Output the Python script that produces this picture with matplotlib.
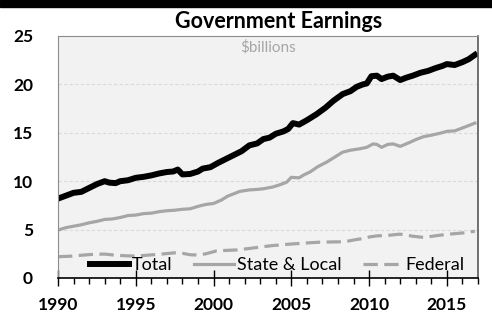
"""
Government earnings, $billions, 1990-2017.
"""
import matplotlib
matplotlib.use("Agg")
import matplotlib.pyplot as plt
from matplotlib.patches import Rectangle
from matplotlib.ticker import MultipleLocator

plt.rcParams['font.family'] = ['Lato', 'DejaVu Sans']

# values
total_years = [1990.0, 1990.5, 1991.0, 1991.5, 1992.0, 1992.5, 1993.0, 1993.3, 1993.7,
               1994.0, 1994.5, 1995.0, 1995.5, 1996.0, 1996.5, 1997.0, 1997.4, 1997.7,
               1998.0, 1998.5, 1999.0, 1999.3, 1999.8, 2000.3, 2000.8, 2001.3, 2001.8,
               2002.3, 2002.8, 2003.2, 2003.6, 2004.0, 2004.5, 2004.8, 2005.1, 2005.5,
               2006.0, 2006.6, 2007.2, 2007.7, 2008.3, 2008.8, 2009.2, 2009.6, 2009.85,
               2010.15, 2010.5, 2010.8, 2011.2, 2011.55, 2012.0, 2012.4, 2012.8, 2013.3,
               2013.8, 2014.3, 2014.7, 2015.0, 2015.5, 2016.0, 2016.4, 2016.8]
total = [8.2, 8.5, 8.8, 8.9, 9.3, 9.7, 10.0, 9.85, 9.8,
         10.0, 10.1, 10.35, 10.45, 10.6, 10.8, 10.95, 11.0, 11.2,
         10.7, 10.75, 11.0, 11.3, 11.45, 11.9, 12.3, 12.7, 13.1,
         13.7, 13.9, 14.35, 14.5, 14.9, 15.15, 15.4, 16.0, 15.85,
         16.3, 16.9, 17.6, 18.3, 19.0, 19.3, 19.75, 20.0, 20.1,
         20.85, 20.9, 20.55, 20.8, 20.9, 20.45, 20.7, 20.9, 21.2,
         21.4, 21.7, 21.9, 22.1, 22.0, 22.3, 22.6, 23.05]

state_years = [1990.0, 1990.5, 1991.0, 1991.5, 1992.0, 1992.5, 1993.0, 1993.5, 1994.0,
               1994.5, 1995.0, 1995.5, 1996.0, 1996.5, 1997.0, 1997.5, 1998.0, 1998.5,
               1999.0, 1999.5, 2000.0, 2000.5, 2000.9, 2001.3, 2001.7, 2002.3, 2002.8,
               2003.2, 2003.8, 2004.3, 2004.7, 2005.0, 2005.5, 2005.8, 2006.2, 2006.7,
               2007.3, 2007.8, 2008.3, 2008.8, 2009.4, 2009.85, 2010.25, 2010.5, 2010.8,
               2011.2, 2011.55, 2012.0, 2012.6, 2013.0, 2013.5, 2014.0, 2014.55, 2015.0,
               2015.5, 2016.0, 2016.4, 2016.8]
state_local = [4.95, 5.2, 5.35, 5.5, 5.7, 5.85, 6.05, 6.1, 6.25,
               6.45, 6.5, 6.65, 6.7, 6.85, 6.95, 7.0, 7.1, 7.15,
               7.4, 7.6, 7.7, 8.05, 8.45, 8.7, 8.95, 9.1, 9.15,
               9.22, 9.4, 9.65, 9.9, 10.4, 10.35, 10.65, 10.95, 11.5,
               12.0, 12.5, 13.0, 13.2, 13.35, 13.5, 13.85, 13.8, 13.5,
               13.8, 13.85, 13.6, 14.0, 14.3, 14.6, 14.75, 14.95, 15.15,
               15.2, 15.5, 15.75, 16.0]

federal_years = [1990.0, 1990.8, 1991.5, 1992.3, 1993.0, 1993.7, 1994.3, 1995.0, 1995.7,
                 1996.5, 1997.5, 1998.0, 1998.5, 1999.0, 1999.5, 2000.2, 2000.8, 2001.5,
                 2002.3, 2003.0, 2003.8, 2004.9, 2005.8, 2006.8, 2007.8, 2008.4, 2009.2,
                 2009.7, 2010.05, 2010.5, 2011.3, 2011.98, 2012.8, 2013.5, 2014.0, 2014.55,
                 2015.3, 2016.0, 2016.8]
federal = [2.2, 2.25, 2.35, 2.45, 2.47, 2.35, 2.3, 2.26, 2.35,
           2.45, 2.6, 2.55, 2.4, 2.37, 2.5, 2.8, 2.85, 2.9,
           3.05, 3.2, 3.35, 3.5, 3.6, 3.7, 3.73, 3.74, 3.98,
           4.1, 4.25, 4.35, 4.42, 4.53, 4.32, 4.19, 4.3, 4.42,
           4.55, 4.65, 4.83]

year_ticks = [1990, 1995, 2000, 2005, 2010, 2015]
value_ticks = [0, 5, 10, 15, 20, 25]

grey = '#a6a6a6'

fig = plt.figure(figsize=(4.92, 3.16), dpi=100)
# black band along the top edge
fig.patches.append(Rectangle((0, 1 - 7 / 316), 1, 7 / 316, transform=fig.transFigure,
                             color='black', zorder=0))

ax = fig.add_axes([58 / 492, 1 - 278 / 316, 420 / 492, 242 / 316])
ax.set_facecolor('#f2f2f2')

ax.plot(federal_years, federal, color=grey, lw=2.3, dashes=(4.5, 2), label='Federal',
        solid_capstyle='butt')
ax.plot(state_years, state_local, color=grey, lw=2.3, label='State & Local')
ax.plot(total_years, total, color='black', lw=4.3, label='Total')

ax.set_xlim(1990, 2017)
ax.set_ylim(0, 25)
ax.set_xticks(year_ticks)
ax.set_yticks(value_ticks)
ax.xaxis.set_minor_locator(MultipleLocator(1))
ax.tick_params(axis='x', which='major', direction='inout', length=11, width=1,
               pad=8, labelsize=12.5)
ax.tick_params(axis='x', which='minor', direction='out', length=4, width=1)
ax.tick_params(axis='y', length=0, pad=18, labelsize=12.5)
for lab in ax.get_xticklabels() + ax.get_yticklabels():
    lab.set_fontweight('bold')

ax.grid(axis='y', color='#d9d9d9', ls=(0, (3, 2)), lw=0.8)
ax.set_axisbelow(True)

ax.spines['bottom'].set_color('black')
ax.spines['bottom'].set_linewidth(1.2)
ax.spines['left'].set_color('#8c8c8c')
ax.spines['top'].set_color('#8c8c8c')
ax.spines['right'].set_color('#595959')
ax.spines['right'].set_linewidth(1.2)

ax.text(0.5, 0.985, '$billions', transform=ax.transAxes, ha='center', va='top',
        color=grey, fontsize=11)

fig.text(279 / 492, 1 - 28 / 316, 'Government Earnings', ha='center', va='baseline',
         fontsize=15.5, fontweight='bold')

handles, labels = ax.get_legend_handles_labels()
order = [2, 1, 0]
ax.legend([handles[i] for i in order], [labels[i] for i in order], ncol=3,
          loc='center', bbox_to_anchor=(277 / 492, 1 - 265 / 316),
          bbox_transform=fig.transFigure, frameon=False, fontsize=13,
          handlelength=2.2, handletextpad=0.15, columnspacing=1.2,
          borderpad=0, borderaxespad=0)

fig.savefig('out.png', dpi=100)
